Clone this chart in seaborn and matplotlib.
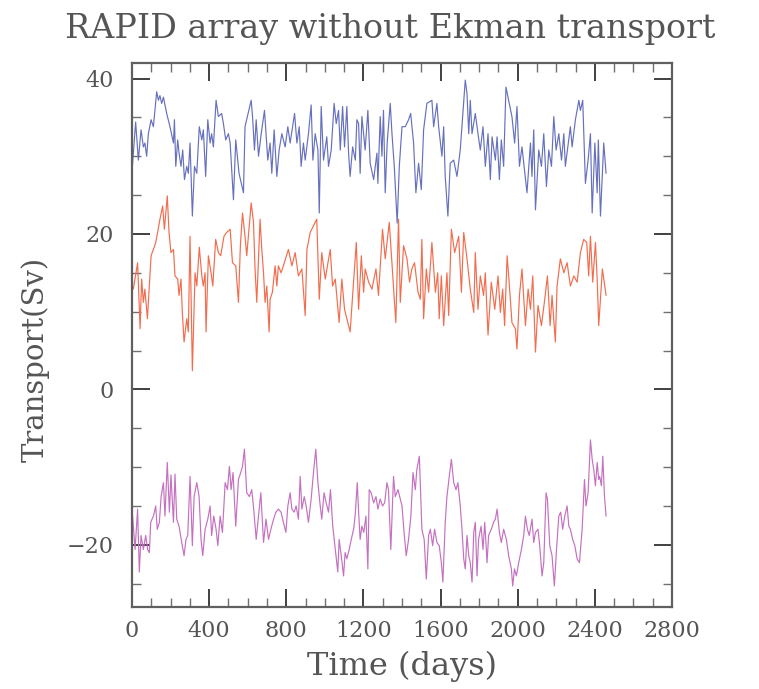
import numpy as np
import pandas as pd
import matplotlib
matplotlib.use("Agg")
import matplotlib.pyplot as plt
from matplotlib.ticker import MultipleLocator
import seaborn as sns

# Upper series (blue)
blue_days = [2, 19, 33, 47, 59, 67, 76, 85, 99, 111, 128, 137, 145, 154, 163, 180, 197, 215, 220, 227,
             237, 244, 254, 263, 272, 284, 292, 301, 313, 324, 336, 349, 362, 370, 382, 393, 405, 413, 422, 436,
             448, 465, 474, 486, 500, 509, 526, 538, 555, 578, 586, 618, 625, 635, 644, 656, 670, 687, 704, 716,
             725, 737, 751, 763, 777, 794, 808, 820, 843, 855, 867, 877, 889, 898, 915, 929, 938, 950, 964, 971,
             981, 993, 1010, 1019, 1033, 1048, 1059, 1071, 1080, 1092, 1102, 1114, 1123, 1131, 1144, 1158, 1166, 1175, 1183, 1192,
             1209, 1223, 1235, 1253, 1270, 1275, 1287, 1296, 1304, 1313, 1323, 1339, 1348, 1360, 1375, 1386, 1400, 1417, 1434, 1445,
             1460, 1472, 1486, 1500, 1512, 1529, 1555, 1564, 1581, 1590, 1607, 1616, 1624, 1638, 1650, 1668, 1685, 1702, 1728, 1737,
             1746, 1754, 1763, 1780, 1794, 1806, 1820, 1832, 1846, 1858, 1867, 1884, 1893, 1905, 1915, 1927, 1939, 1953, 1970, 1984,
             1996, 2009, 2022, 2048, 2066, 2074, 2083, 2092, 2109, 2123, 2135, 2149, 2161, 2175, 2187, 2199, 2213, 2227, 2239, 2247,
             2273, 2282, 2299, 2317, 2325, 2337, 2351, 2365, 2377, 2386, 2400, 2412, 2418, 2429, 2446, 2458]
blue_sv = [28.7, 34.4, 29.5, 33.4, 31.2, 31.7, 30.0, 32.9, 34.7, 33.8, 38.3, 37.2, 37.8, 36.8, 37.6, 35.5, 33.8, 31.7, 34.7, 28.7,
           32.1, 30.4, 28.7, 30.8, 27.0, 28.7, 27.8, 31.7, 22.3, 28.7, 27.8, 33.8, 32.1, 33.4, 27.4, 34.7, 31.7, 32.9, 31.2, 37.2,
           35.1, 35.5, 34.2, 32.1, 32.9, 31.7, 24.4, 32.1, 27.8, 25.3, 33.8, 37.2, 35.1, 30.8, 34.7, 30.0, 32.9, 35.9, 29.5, 31.7,
           27.8, 33.4, 27.4, 30.8, 32.9, 31.2, 33.8, 31.7, 35.5, 31.7, 33.8, 28.7, 31.7, 29.5, 32.9, 36.6, 29.5, 32.9, 30.8, 22.7,
           36.4, 29.5, 32.5, 28.7, 30.8, 36.8, 34.2, 35.9, 30.8, 36.4, 31.2, 36.4, 30.4, 27.4, 31.2, 29.5, 34.7, 34.2, 27.8, 35.1,
           30.8, 35.9, 29.1, 27.0, 30.4, 26.5, 35.1, 30.0, 35.9, 25.3, 31.7, 36.8, 32.9, 28.7, 21.4, 28.7, 33.8, 33.8, 34.7, 35.5,
           31.7, 25.3, 29.1, 25.7, 33.4, 36.8, 37.2, 33.8, 36.8, 33.8, 30.0, 33.8, 27.4, 22.3, 29.1, 29.5, 27.4, 30.8, 39.8, 38.1,
           32.9, 37.2, 32.9, 35.5, 32.9, 30.8, 33.8, 28.7, 32.9, 27.0, 32.5, 29.5, 32.5, 27.0, 32.1, 28.7, 38.9, 37.2, 35.1, 31.7,
           36.4, 28.7, 31.2, 25.3, 31.7, 27.4, 33.4, 23.1, 30.8, 28.7, 32.9, 26.1, 30.8, 28.7, 35.1, 30.8, 32.9, 29.5, 32.9, 28.7,
           33.8, 31.2, 34.7, 37.2, 35.9, 37.2, 26.5, 29.5, 32.9, 22.7, 31.7, 25.3, 32.1, 22.3, 31.7, 27.8]

# Middle series (orange)
orange_days = [7, 29, 42, 50, 59, 67, 80, 88, 99, 111, 123, 133, 145, 159, 168, 183, 192, 202, 215, 223,
               237, 244, 254, 261, 270, 284, 292, 301, 313, 327, 336, 349, 362, 370, 379, 384, 396, 410, 419, 434,
               448, 460, 477, 491, 509, 521, 538, 552, 562, 573, 586, 595, 618, 630, 638, 647, 664, 673, 682, 690,
               699, 711, 716, 728, 742, 751, 759, 773, 785, 811, 829, 846, 863, 881, 898, 907, 924, 958, 971, 984,
               1002, 1016, 1028, 1040, 1054, 1074, 1088, 1102, 1131, 1163, 1175, 1189, 1201, 1209, 1227, 1244, 1265, 1278, 1299, 1313,
               1334, 1368, 1382, 1391, 1408, 1426, 1439, 1451, 1465, 1483, 1495, 1503, 1512, 1526, 1538, 1555, 1573, 1585, 1593, 1604,
               1616, 1633, 1642, 1656, 1673, 1694, 1708, 1720, 1737, 1754, 1772, 1780, 1794, 1806, 1823, 1832, 1846, 1863, 1881, 1898,
               1910, 1922, 1932, 1945, 1957, 1970, 1988, 1996, 2009, 2022, 2040, 2054, 2066, 2078, 2092, 2105, 2123, 2140, 2154, 2168,
               2178, 2195, 2204, 2221, 2239, 2256, 2273, 2291, 2308, 2325, 2342, 2358, 2368, 2377, 2389, 2403, 2412, 2420, 2439, 2458]
orange_sv = [12.9, 16.3, 7.8, 14.2, 11.2, 12.9, 9.1, 12.5, 17.2, 18.0, 18.9, 20.2, 21.9, 23.6, 20.6, 24.9, 20.2, 17.6, 18.0, 14.6,
             14.2, 12.1, 14.2, 9.9, 6.1, 9.1, 7.4, 19.7, 2.4, 15.0, 13.3, 18.3, 14.6, 13.3, 15.0, 7.4, 17.2, 15.0, 13.3, 19.3,
             17.6, 17.2, 19.7, 20.2, 20.6, 16.3, 15.9, 11.2, 18.5, 22.7, 19.7, 17.2, 24.0, 21.5, 15.5, 11.2, 21.9, 18.0, 15.0, 11.2,
             13.3, 7.4, 11.6, 12.5, 15.9, 13.3, 15.9, 15.0, 15.9, 18.0, 15.9, 17.6, 14.6, 15.5, 9.5, 18.0, 20.2, 21.9, 11.6, 17.6,
             14.2, 16.3, 18.0, 13.3, 14.2, 8.6, 14.2, 10.3, 7.4, 18.9, 10.3, 17.2, 12.5, 15.5, 13.8, 12.9, 15.5, 12.1, 20.6, 16.8,
             21.5, 8.6, 21.9, 11.2, 18.5, 16.8, 13.8, 15.5, 16.3, 12.5, 11.6, 19.3, 9.1, 15.5, 12.5, 18.9, 12.5, 15.0, 9.1, 14.6,
             8.2, 15.0, 9.5, 20.6, 17.6, 19.7, 12.5, 20.2, 16.8, 12.9, 9.9, 17.6, 10.3, 14.6, 12.1, 15.0, 7.0, 13.8, 10.3, 14.6,
             9.9, 12.9, 8.2, 17.2, 13.3, 8.6, 7.8, 5.2, 12.1, 15.5, 8.2, 12.9, 10.3, 14.6, 4.8, 10.8, 8.2, 11.6, 14.6, 8.2,
             12.1, 6.1, 13.3, 16.8, 15.0, 16.3, 13.3, 14.6, 13.8, 17.6, 19.3, 18.9, 14.6, 19.7, 13.8, 18.9, 14.2, 8.2, 15.5, 12.1]

# Lower series (purple)
purple_days = [3, 16, 29, 38, 47, 59, 71, 81, 90, 97, 111, 123, 131, 142, 151, 163, 171, 183, 194, 202,
               215, 223, 232, 244, 258, 270, 280, 289, 301, 313, 322, 336, 348, 358, 367, 379, 393, 405, 413, 424,
               436, 445, 457, 469, 483, 495, 505, 514, 524, 531, 538, 552, 564, 573, 583, 595, 609, 621, 631, 644,
               656, 668, 682, 695, 708, 720, 734, 746, 759, 773, 785, 798, 808, 820, 829, 841, 851, 863, 872, 881,
               893, 903, 915, 929, 941, 953, 964, 976, 984, 996, 1007, 1019, 1029, 1041, 1054, 1067, 1074, 1085, 1097, 1105,
               1114, 1126, 1137, 1149, 1157, 1168, 1175, 1183, 1192, 1202, 1213, 1223, 1230, 1240, 1253, 1265, 1275, 1287, 1299, 1310,
               1322, 1330, 1342, 1356, 1365, 1379, 1391, 1400, 1412, 1422, 1434, 1446, 1457, 1469, 1477, 1490, 1503, 1515, 1526, 1538,
               1547, 1559, 1569, 1581, 1593, 1604, 1612, 1624, 1633, 1645, 1656, 1668, 1680, 1690, 1702, 1711, 1720, 1728, 1737, 1746,
               1754, 1763, 1772, 1780, 1789, 1797, 1810, 1820, 1829, 1841, 1849, 1863, 1875, 1884, 1893, 1905, 1915, 1927, 1941, 1953,
               1967, 1974, 1983, 1993, 2005, 2019, 2031, 2040, 2050, 2060, 2074, 2083, 2092, 2105, 2114, 2126, 2135, 2147, 2154, 2166,
               2178, 2190, 2201, 2213, 2223, 2233, 2244, 2256, 2265, 2273, 2285, 2296, 2308, 2320, 2334, 2346, 2354, 2365, 2377, 2386,
               2394, 2403, 2412, 2420, 2425, 2434, 2441, 2450, 2458]
purple_sv = [-16.3, -20.6, -15.4, -23.5, -18.8, -20.6, -18.8, -20.6, -21.0, -17.1, -16.3, -15.0, -18.0, -17.1, -13.8, -12.0, -16.3, -9.4, -15.8, -11.0,
             -17.1, -10.9, -16.7, -17.6, -19.7, -21.4, -19.3, -18.8, -11.2, -20.1, -13.8, -12.0, -13.8, -19.3, -21.4, -18.0, -16.7, -15.0, -18.8, -16.3,
             -18.0, -20.1, -16.3, -18.4, -12.0, -12.9, -9.9, -12.9, -10.7, -14.1, -17.6, -11.6, -10.7, -9.9, -7.7, -13.3, -13.8, -12.9, -15.4, -19.3,
             -16.3, -13.3, -19.7, -16.7, -19.3, -18.0, -16.7, -15.8, -15.4, -15.8, -17.1, -18.4, -15.0, -13.3, -15.4, -15.8, -15.0, -16.7, -11.2, -15.4,
             -13.8, -15.0, -17.1, -14.1, -10.7, -7.7, -12.0, -15.0, -16.7, -13.3, -14.6, -15.8, -12.9, -17.6, -20.6, -23.5, -19.3, -21.4, -24.0, -21.0,
             -21.8, -20.6, -19.3, -18.0, -16.3, -12.0, -15.8, -19.3, -17.6, -18.4, -16.3, -23.1, -12.9, -13.3, -14.6, -13.8, -15.4, -14.1, -15.0, -14.6,
             -12.0, -12.9, -20.6, -11.2, -13.8, -12.9, -14.1, -15.0, -18.8, -21.4, -19.3, -16.3, -10.7, -12.9, -10.3, -8.6, -18.0, -19.3, -24.4, -18.8,
             -18.0, -20.1, -18.0, -19.7, -20.1, -22.3, -24.8, -17.1, -13.8, -11.2, -9.0, -12.0, -12.9, -12.0, -15.0, -18.0, -21.8, -23.1, -18.8, -21.4,
             -22.3, -24.8, -18.4, -17.1, -24.0, -19.3, -17.6, -20.6, -17.1, -22.3, -18.8, -18.0, -17.1, -16.7, -15.4, -18.4, -19.7, -18.0, -19.3, -21.4,
             -23.1, -25.3, -23.1, -24.0, -22.3, -20.6, -18.8, -16.3, -18.0, -18.8, -16.7, -19.7, -18.4, -18.0, -20.1, -24.0, -22.3, -13.3, -14.1, -20.1,
             -21.4, -25.3, -20.6, -16.3, -15.8, -18.0, -16.3, -15.0, -17.6, -18.0, -19.3, -20.1, -21.8, -22.3, -18.0, -11.6, -15.0, -13.3, -6.5, -9.0,
             -10.3, -12.4, -9.4, -11.6, -11.2, -12.4, -8.6, -13.8, -16.3]

x_ticks = [0, 400, 800, 1200, 1600, 2000, 2400, 2800]
y_ticks = [-20, 0, 20, 40]

sns.set_theme(style="ticks")
plt.rcParams["font.family"] = ["DejaVu Serif"]
text_color = "#555555"

fig = plt.figure(figsize=(7.59, 6.89), dpi=100)
ax = fig.add_axes([0.1739, 0.119, 0.7115, 0.7896])

series = [
    (blue_days, blue_sv, "#6670bd"),
    (orange_days, orange_sv, "#f26c4e"),
    (purple_days, purple_sv, "#c570c0"),
]
for days, vals, col in series:
    df = pd.DataFrame({"day": days, "sv": vals})
    sns.lineplot(data=df, x="day", y="sv", ax=ax, color=col, linewidth=0.85,
                 estimator=None, sort=False)

ax.set_xlim(0, 2800)
ax.set_ylim(-28, 42)
ax.set_xticks(x_ticks)
ax.set_yticks(y_ticks)
ax.set_xticklabels([str(t) for t in x_ticks])
ax.set_yticklabels([str(t).replace("-", "\u2212") for t in y_ticks])
ax.xaxis.set_minor_locator(MultipleLocator(100))
ax.yaxis.set_minor_locator(MultipleLocator(5))

ax.tick_params(which="both", direction="in", top=True, right=True,
               colors="#404040", labelcolor=text_color, labelsize=16)
ax.tick_params(which="major", length=13, width=1.4)
ax.tick_params(which="minor", length=6.5, width=1.0, color="#707070")
ax.tick_params(axis="x", which="major", pad=9)
ax.tick_params(axis="y", which="major", pad=13)
for s in ax.spines.values():
    s.set_color("#606060")
    s.set_linewidth(1.6)

ax.set_xlabel("Time (days)", fontsize=23, color=text_color)
ax.set_ylabel("Transport(Sv)", fontsize=21, color=text_color)
ax.xaxis.set_label_coords(0.5, -0.081)
ax.yaxis.set_label_coords(-0.152, 0.455)
ax.set_title("RAPID array without Ekman transport", fontsize=24, color=text_color,
             x=0.478, y=1.046, pad=0)

fig.savefig("out.png", dpi=100, facecolor="white")
